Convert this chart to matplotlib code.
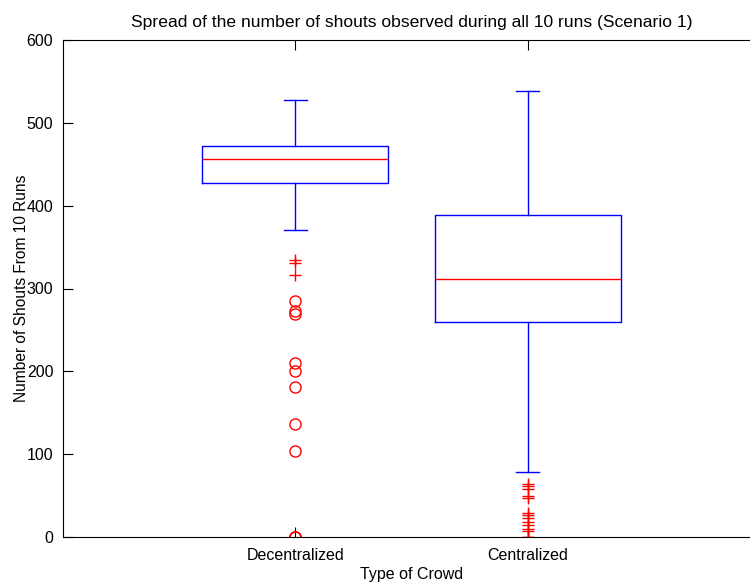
import matplotlib
matplotlib.use('Agg')
from matplotlib import pyplot as plt

plt.rcParams['font.family'] = ['Liberation Sans', 'DejaVu Sans']

# Box statistics:
crowds = ['Decentralized', 'Centralized']
q1 = [427, 260]
med = [456, 312]
q3 = [472, 389]
whisker_lo = [371, 79]
whisker_hi = [528, 538]

# Outliers: '+' between 1.5 and 3 IQR, 'o' beyond 3 IQR
dec_plus = [334, 331, 316]
dec_circle = [285, 273, 269, 210, 200, 181, 137, 104, 0, 0, 0]
cen_plus = [64, 61, 58, 50, 47, 29, 26, 23, 18, 15, 10, 7, 0, 0]

stats = []
for i, name in enumerate(crowds):
    stats.append({'label': name, 'q1': q1[i], 'med': med[i], 'q3': q3[i],
                  'whislo': whisker_lo[i], 'whishi': whisker_hi[i], 'fliers': []})

fig = plt.figure(figsize=(7.5, 5.85), dpi=100)
ax = fig.add_axes([63 / 750, 1 - 537 / 585, 697 / 750, 497 / 585])

blue = dict(color='#0000ff', linewidth=1)
ax.bxp(stats, positions=[1, 2], widths=0.8, showfliers=False,
       boxprops=blue, whiskerprops=blue, capprops=blue,
       medianprops=dict(color='#ff0000', linewidth=1), capwidths=0.1)

ax.plot([1] * len(dec_plus), dec_plus, '+', color='#ff0000', markersize=8, markeredgewidth=1)
ax.plot([1] * len(dec_circle), dec_circle, 'o', mfc='none', mec='#ff0000', markersize=8, markeredgewidth=1)
ax.plot([2] * len(cen_plus), cen_plus, '+', color='#ff0000', markersize=8, markeredgewidth=1)

ax.set_xlim(0, 3)
ax.set_ylim(0, 600)
ax.set_xticks([1, 2])
ax.set_xticklabels(crowds)
ax.set_yticks(range(0, 601, 100))
ax.tick_params(direction='in', top=True, right=True, length=7.5, width=0.8, labelsize=11.5)
ax.tick_params(axis='x', pad=8)
ax.tick_params(axis='y', pad=7)
for s in ax.spines.values():
    s.set_linewidth(0.8)

ax.set_title('Spread of the number of shouts observed during all 10 runs (Scenario 1)',
             fontsize=12.6, pad=9)
ax.set_xlabel('Type of Crowd', fontsize=11.5, labelpad=3)
ax.set_ylabel('Number of Shouts From 10 Runs', fontsize=11.2, labelpad=-1.5)

fig.savefig('out.png', dpi=100)
